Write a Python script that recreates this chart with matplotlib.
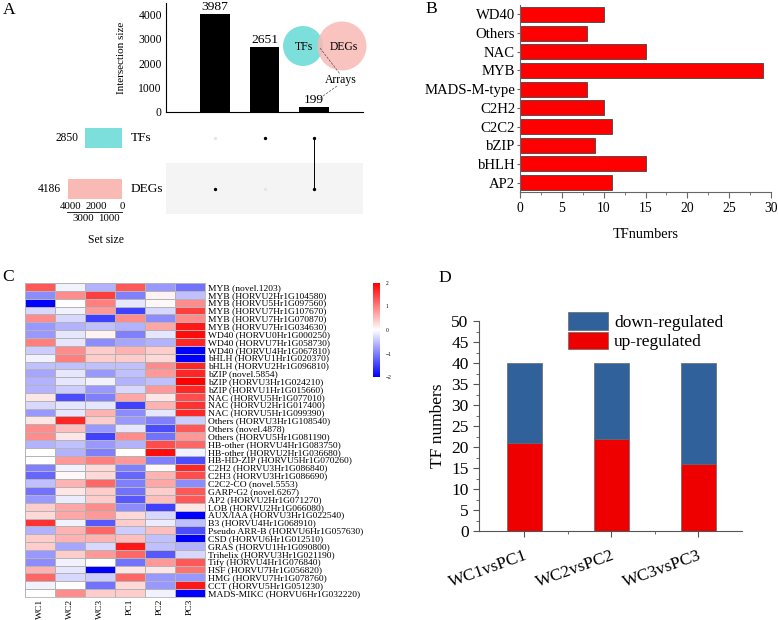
import numpy as np
import matplotlib
matplotlib.use('Agg')
import matplotlib.pyplot as plt
from matplotlib.patches import Circle

plt.rcParams['font.family'] = 'Liberation Serif'

# figure size in pixels, used to place the panels
W, H = 778, 620


def box(x0, y0, x1, y1):
    # pixel box (top-left origin) -> figure fraction rect
    return [x0 / W, 1 - y1 / H, (x1 - x0) / W, (y1 - y0) / H]


# Panel A - upset plot
inter_sizes = [3987, 2651, 199]
set_names = ['TFs', 'DEGs']
set_sizes = [2850, 4186]
# membership of every intersection column: (TFs, DEGs)
membership = [(0, 1), (1, 0), (1, 1)]
tf_color = '#7DDFDC'
deg_color = '#F9B9B5'

# Panel B - TF families
tf_families = ['AP2', 'bHLH', 'bZIP', 'C2C2', 'C2H2', 'MADS-M-type',
               'MYB', 'NAC', 'Others', 'WD40']
tf_counts = [11, 15, 9, 11, 10, 8, 29, 15, 8, 10]

# Panel C - heatmap
samples = ['WC1', 'WC2', 'WC3', 'PC1', 'PC2', 'PC3']
gene_labels = [
    'MYB (novel.1203)', 'MYB (HORVU2Hr1G104580)', 'MYB (HORVU5Hr1G097560)',
    'MYB (HORVU7Hr1G107670)', 'MYB (HORVU7Hr1G070870)', 'MYB (HORVU7Hr1G034630)',
    'WD40 (HORVU0Hr1G000250)', 'WD40 (HORVU7Hr1G058730)', 'WD40 (HORVU4Hr1G067810)',
    'bHLH (HORVU1Hr1G020370)', 'bHLH (HORVU2Hr1G096810)', 'bZIP (novel.5854)',
    'bZIP (HORVU3Hr1G024210)', 'bZIP (HORVU1Hr1G015660)', 'NAC (HORVU5Hr1G077010)',
    'NAC (HORVU2Hr1G017400)', 'NAC (HORVU5Hr1G099390)', 'Others (HORVU3Hr1G108540)',
    'Others (novel.4878)', 'Others (HORVU5Hr1G081190)', 'HB-other (HORVU4Hr1G083750)',
    'HB-other (HORVU2Hr1G036680)', 'HB-HD-ZIP (HORVU5Hr1G070260)',
    'C2H2 (HORVU3Hr1G086840)', 'C2H3 (HORVU3Hr1G086690)', 'C2C2-CO (novel.5553)',
    'GARP-G2 (novel.6267)', 'AP2 (HORVU2Hr1G071270)', 'LOB (HORVU2Hr1G066080)',
    'AUX/IAA (HORVU3Hr1G022540)', 'B3 (HORVU4Hr1G068910)',
    'Pseudo ARR-B (HORVU6Hr1G057630)', 'CSD (HORVU6Hr1G012510)',
    'GRAS (HORVU1Hr1G090800)', 'Trihelix (HORVU3Hr1G021190)',
    'Tify (HORVU4Hr1G076840)', 'HSF (HORVU7Hr1G056820)', 'HMG (HORVU7Hr1G078760)',
    'CCT (HORVU5Hr1G051230)', 'MADS-MIKC (HORVU6Hr1G032220)',
]
wc1 = [1.3, -0.9, -2.0, -0.3, 0.9, -0.8, -0.8, 1.0, -0.4, -0.1,
       -0.5, -0.7, -0.6, -0.6, 0.2, -0.3, -0.8, 0.2, 0.9, 0.9,
       -0.6, 0.0, 0.0, -1.0, -1.2, -0.5, -1.1, -0.8, 0.4, 0.3,
       1.6, -0.6, 0.4, 0.4, -0.8, -0.9, 0.6, 1.2, -0.1, 0.0]
wc2 = [-0.1, 0.9, 0.0, -0.1, -0.3, -0.6, -0.2, -0.2, 0.9, 1.0,
       -0.5, -0.2, -0.2, -0.4, -1.4, -0.2, -0.2, 1.7, 0.5, 0.2,
       -0.5, -0.6, 0.8, -0.1, 0.05, 0.6, 0.2, -0.15, 0.7, 0.7,
       -0.1, 0.6, 0.6, -0.7, 0.4, -0.1, -0.2, -0.3, 0.0, 0.9]
wc3 = [-0.6, 1.5, 1.0, 0.8, -1.5, -0.5, 0.1, -0.9, 0.4, 0.4,
       -0.5, -0.8, -0.1, -0.8, -1.0, -0.2, 0.6, 0.4, -0.8, -1.5,
       -0.8, -1.0, 1.0, 0.3, 0.3, 1.2, 0.4, 0.4, 0.9, 0.8,
       -1.3, 1.2, 0.6, -0.3, 0.8, 0.0, -2.0, -0.4, -1.1, 0.4]
pc1 = [1.3, -1.0, -0.2, -1.5, 0.9, -0.6, -1.0, -0.7, 0.6, 0.4,
       -0.5, -0.5, -0.6, -0.3, 0.7, -1.5, -0.9, -0.8, -0.2, 0.9,
       -0.6, 0.0, 0.8, -1.0, -1.2, -1.0, -1.1, -1.3, -0.9, 0.3,
       0.4, -0.4, 0.5, 1.8, 1.2, -1.1, 0.2, 1.2, 0.3, 0.4]
pc2 = [-0.8, 0.1, 0.05, -0.3, -0.9, 0.7, -0.2, -0.6, 0.4, 0.3,
       0.9, 0.8, -0.5, 0.8, 0.2, 0.6, -0.2, -1.0, -1.4, -1.1,
       1.4, 1.9, -1.0, 0.05, 0.6, 0.7, 0.4, 0.5, -1.5, -0.3,
       -0.15, 0.5, -0.5, -0.5, -1.3, 0.8, 0.2, -0.8, -0.8, -0.1]
pc3 = [-1.1, -0.5, 0.9, 1.5, 0.9, 1.8, 1.9, 1.7, -2.0, -2.0,
       1.7, 1.7, 2.0, 1.7, 1.4, 1.6, 1.7, -0.4, 1.3, 0.8,
       1.2, -0.1, -1.4, 1.7, 1.4, -0.9, 1.3, 1.3, 0.2, -2.0,
       -0.5, -1.4, -2.0, -0.6, -0.3, 1.3, 1.1, -0.8, 1.8, -2.0]

# Panel D - stacked bars
comparisons = ['WC1vsPC1', 'WC2vsPC2', 'WC3vsPC3']
up_reg = [21, 22, 16]
down_reg = [19, 18, 24]

fig = plt.figure(figsize=(7.78, 6.2), dpi=100)

# ---------------- A: intersection bars
ax = fig.add_axes(box(166, 3, 363, 112))
xpos = np.arange(1, len(inter_sizes) + 1)
ax.bar(xpos, inter_sizes, width=0.6, color='black')
for x, v in zip(xpos, inter_sizes):
    ax.text(x, v + 40, str(v), ha='center', va='bottom', fontsize=9.7)
ax.set_xlim(0, 4)
ax.set_ylim(0, 4450)
ax.set_yticks([0, 1000, 2000, 3000, 4000])
ax.set_xticks([])
ax.tick_params(axis='y', length=0, pad=3, labelsize=8.4)
ax.spines[['top', 'right']].set_visible(False)
ax.set_ylabel('Intersection size', fontsize=8, labelpad=9)

# venn inset
vax = fig.add_axes(box(270, 10, 380, 110))
vax.set_xlim(0, 110)
vax.set_ylim(100, 0)
vax.axis('off')
vax.add_patch(Circle((33, 36), 20, color=tf_color, lw=0))
vax.add_patch(Circle((72, 36), 24.5, color=deg_color, alpha=0.85, lw=0))
vax.text(34, 37, 'TFs', ha='center', va='center', fontsize=8.5)
vax.text(74, 37, 'DEGs', ha='center', va='center', fontsize=8.4)
vax.text(71, 70, 'Arrays', ha='center', va='center', fontsize=8.4)
vax.plot([50, 70], [38, 64], ls='--', lw=0.5, color='#555555')
vax.plot([67, 46], [76, 91], ls='--', lw=0.5, color='#555555')

# matrix
mx = fig.add_axes(box(166, 112, 363, 214))
mx.set_xlim(0, 4)
mx.set_ylim(-0.5, 1.5)
mx.axhspan(-0.5, 0.5, color='#F4F4F4', lw=0)
rows_y = [1, 0]  # TFs, DEGs
for x, mem in zip(xpos, membership):
    for y, m in zip(rows_y, mem):
        mx.scatter(x, y, s=2, color='black' if m else '#E6E6E6', zorder=3)
    ys = [y for y, m in zip(rows_y, mem) if m]
    if len(ys) > 1:
        mx.plot([x, x], [min(ys), max(ys)], color='black', lw=0.7, zorder=2)
mx.axis('off')

# set sizes
sx = fig.add_axes(box(67, 112, 122, 212))
sx.barh(rows_y, set_sizes, height=0.38, color=[tf_color, deg_color])
sx.set_xlim(4264, 0)
sx.set_ylim(-0.45, 1.51)
sx.set_yticks([])
sx.set_xticks([1000, 3000])
sx.tick_params(axis='x', length=0, pad=1.5, labelsize=7.8)
for v in [0, 2000, 4000]:
    sx.text(v, 0.01, str(v), transform=sx.get_xaxis_transform(),
            ha='center', va='bottom', fontsize=7.8)
sx.spines[['top', 'right', 'left']].set_visible(False)
sx.spines['bottom'].set_linewidth(0.6)
for y, v, name in zip(rows_y, set_sizes, set_names):
    sx.annotate(str(v), (v, y), xytext=(-5, 0), textcoords='offset points',
                ha='right', va='center', fontsize=8.3)
    sx.annotate(name, (0, y), xytext=(6, 0), textcoords='offset points',
                ha='left', va='center', fontsize=9.6)
fig.text(106 / W, 1 - 240 / H, 'Set size', ha='center', va='center', fontsize=8.4)

# ---------------- B: TF families
bx = fig.add_axes(box(520, 5, 771, 192))
bx.barh(np.arange(len(tf_families)), tf_counts, height=0.8, color='#FF0000',
        edgecolor='#444444', lw=0.6)
bx.set_yticks(np.arange(len(tf_families)))
bx.set_yticklabels(tf_families)
bx.set_ylim(-0.5, 9.5)
bx.set_xlim(0, 30)
bx.set_xticks(np.arange(0, 31, 5))
bx.set_xticks(np.arange(0, 30, 2.5), minor=True)
bx.tick_params(axis='y', length=2, pad=1.5, labelsize=10.6, color='#666666')
bx.tick_params(axis='x', length=4, labelsize=9.8, color='#666666')
bx.tick_params(axis='x', which='minor', length=2, color='#666666')
bx.spines[['top', 'right']].set_visible(False)
for s in ['left', 'bottom']:
    bx.spines[s].set_color('#666666')
bx.set_xlabel('TFnumbers', fontsize=10.4, labelpad=9)

# ---------------- C: heatmap
hx = fig.add_axes(box(25, 283, 205, 597))
heat = np.column_stack([wc1, wc2, wc3, pc1, pc2, pc3])
mesh = hx.pcolormesh(np.arange(len(samples) + 1), np.arange(len(gene_labels) + 1),
                     heat, cmap='bwr', vmin=-2, vmax=2,
                     edgecolors='#B4B4B4', linewidth=0.5)
hx.set_xlim(0, len(samples))
hx.set_ylim(len(gene_labels), 0)
hx.yaxis.tick_right()
hx.set_yticks(np.arange(len(gene_labels)) + 0.5)
hx.set_yticklabels(gene_labels)
hx.set_xticks(np.arange(len(samples)) + 0.5)
hx.set_xticklabels(samples, rotation=90)
hx.tick_params(axis='y', length=0, pad=2, labelsize=6.8)
hx.tick_params(axis='x', length=0, pad=1.5, labelsize=6.8)
for s in hx.spines.values():
    s.set_color('#B4B4B4')
    s.set_linewidth(0.6)

cax = fig.add_axes(box(373, 283, 380, 377))
cb = fig.colorbar(mesh, cax=cax, ticks=[-2, -1, 0, 1, 2])
cb.outline.set_visible(False)
cax.tick_params(length=0, pad=4, labelsize=4)

# ---------------- D: up / down regulated
dx = fig.add_axes(box(479, 321, 742, 531))
xd = np.arange(len(comparisons))
up_bars = dx.bar(xd, up_reg, width=0.4, color='#EE0000', edgecolor='#666666', lw=0.5)
down_bars = dx.bar(xd, down_reg, width=0.4, bottom=up_reg, color='#30619A',
                   edgecolor='#666666', lw=0.5)
dx.set_xlim(-0.52, 2.5)
dx.set_ylim(0, 50)
dx.set_yticks(np.arange(0, 51, 5))
dx.set_yticks(np.arange(0, 50, 2.5), minor=True)
dx.set_xticks(xd)
dx.set_xticks(xd[:-1] + 0.5, minor=True)
dx.set_xticklabels(comparisons, rotation=20, ha='right', rotation_mode='anchor')
dx.tick_params(axis='both', length=4, labelsize=12.5, color='#555555')
dx.tick_params(axis='x', pad=8)
dx.tick_params(axis='both', which='minor', length=2, color='#555555')
dx.spines[['top', 'right']].set_visible(False)
for s in ['left', 'bottom']:
    dx.spines[s].set_color('#555555')
dx.set_ylabel('TF numbers', fontsize=12.5, labelpad=4)
fig.legend([down_bars, up_bars], ['down-regulated', 'up-regulated'],
           loc='upper left', bbox_to_anchor=(568 / W, 1 - 312 / H), frameon=False,
           fontsize=12.5, handlelength=2.3, handleheight=1.2, borderpad=0,
           borderaxespad=0, labelspacing=0.05, handletextpad=0.35)

# panel letters
for letter, (x, y) in zip('ABCD', [(9, 10), (431, 9), (8, 277), (445, 278)]):
    fig.text(x / W, 1 - y / H, letter, ha='center', va='center', fontsize=12.6)

fig.savefig('out.png', dpi=100)
